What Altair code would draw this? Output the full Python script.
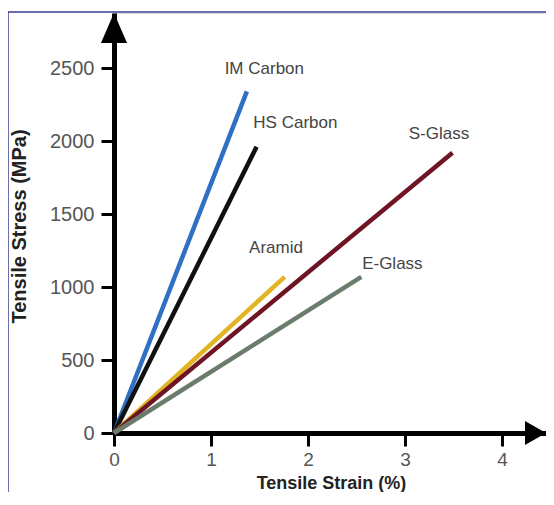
import altair as alt
import pandas as pd

# ---- data ----
materials = ["IM Carbon", "HS Carbon", "Aramid", "S-Glass", "E-Glass"]
end_strain = [1.37, 1.47, 1.76, 3.49, 2.55]          # %
end_stress = [2340, 1960, 1070, 1920, 1070]          # MPa
label_strain = [1.55, 1.87, 1.67, 3.35, 2.87]
label_stress = [2495, 2125, 1270, 2050, 1160]
colors = ["#2f6fc4", "#111111", "#e2b424", "#6e1424", "#6b7b6c"]

x_ticks = [0, 1, 2, 3, 4]
y_ticks = [0, 500, 1000, 1500, 2000, 2500]
x_max = 4.454
y_max = 2877

rows = []
for m, xs, ys in zip(materials, end_strain, end_stress):
    rows.append({"material": m, "strain": 0.0, "stress": 0.0})
    rows.append({"material": m, "strain": xs, "stress": ys})
lines_df = pd.DataFrame(rows)
labels_df = pd.DataFrame({"material": materials, "strain": label_strain, "stress": label_stress})
arrow_y_df = pd.DataFrame({"strain": [0.0], "stress": [y_max]})
arrow_x_df = pd.DataFrame({"strain": [x_max], "stress": [0.0]})

W, H = 432, 420

xscale = alt.Scale(domain=[0, x_max], nice=False, zero=True)
yscale = alt.Scale(domain=[0, y_max], nice=False, zero=True)

x_axis = alt.Axis(values=x_ticks, format="d", title="Tensile Strain (%)", grid=False,
                  domainColor="black", domainWidth=5, tickColor="black", tickWidth=3,
                  tickSize=13, labelFontSize=19, labelColor="#555555", labelPadding=4,
                  labelFlush=False,
                  labelFont="Liberation Sans", titleFont="Liberation Sans",
                  titleFontSize=18, titleFontWeight="bold", titleColor="#222222",
                  titleX=217, titleY=55, titleBaseline="alphabetic", titleAlign="center")
y_axis = alt.Axis(values=y_ticks, format="d", title="Tensile Stress (MPa)", grid=False,
                  domainColor="black", domainWidth=5, tickColor="black", tickWidth=3,
                  tickSize=13, labelFontSize=20, labelColor="#555555", labelPadding=7,
                  labelFlush=False,
                  labelFont="Liberation Sans", titleFont="Liberation Sans",
                  titleFontSize=20, titleFontWeight="bold", titleColor="#222222",
                  titleX=-95, titleY=213, titleAngle=-90, titleBaseline="middle",
                  titleAlign="center")

color = alt.Color("material:N", scale=alt.Scale(domain=materials, range=colors), legend=None)

lines = alt.Chart(lines_df).mark_line(strokeWidth=4.5, strokeCap="butt").encode(
    x=alt.X("strain:Q", scale=xscale, axis=x_axis),
    y=alt.Y("stress:Q", scale=yscale, axis=y_axis),
    color=color,
    detail="material:N",
)

labels = alt.Chart(labels_df).mark_text(fontSize=17, color="#444444", font="Liberation Sans",
                                        align="center", baseline="middle").encode(
    x=alt.X("strain:Q", scale=xscale),
    y=alt.Y("stress:Q", scale=yscale),
    text="material:N",
)

arrow_up = alt.Chart(arrow_y_df).mark_point(
    shape="M 0 0 L -0.87 2 L 0.87 2 Z", size=900, filled=True, color="black",
    opacity=1, strokeWidth=0).encode(
    x=alt.X("strain:Q", scale=xscale), y=alt.Y("stress:Q", scale=yscale))

arrow_right = alt.Chart(arrow_x_df).mark_point(
    shape="M 0 0 L -2 -1.14 L -2 1.14 Z", size=441, filled=True, color="black",
    opacity=1, strokeWidth=0).encode(
    x=alt.X("strain:Q", scale=xscale), y=alt.Y("stress:Q", scale=yscale))

# decorative frame (cropped border of the original figure)
frame_top = alt.Chart(pd.DataFrame({"a": [0]})).mark_rule(color="#3c3c8c", strokeWidth=1.5).encode(
    x=alt.value(-106), x2=alt.value(W + 10), y=alt.value(-1))
frame_left = alt.Chart(pd.DataFrame({"a": [0]})).mark_rule(color="#3c3c8c", strokeWidth=1.5).encode(
    x=alt.value(-106), y=alt.value(-1), y2=alt.value(H + 80))

chart = alt.layer(frame_top, frame_left, lines, labels, arrow_up, arrow_right).properties(
    width=W, height=H,
    autosize=alt.AutoSizeParams(type="none"),
    padding={"left": 106, "top": 5, "right": 0, "bottom": 59},
).configure_view(stroke=None).configure(background="white")

chart.save("out.html", embed_options={"renderer": "svg", "actions": False})
